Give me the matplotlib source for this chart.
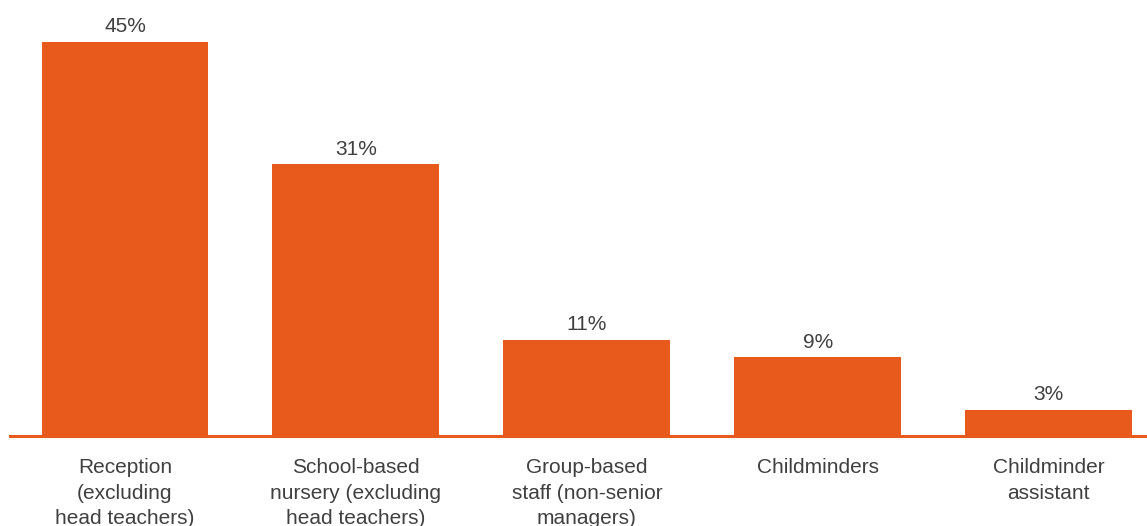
import matplotlib
matplotlib.use("Agg")
import matplotlib.pyplot as plt

categories = ["Reception\n(excluding\nhead teachers)",
              "School-based\nnursery (excluding\nhead teachers)",
              "Group-based\nstaff (non-senior\nmanagers)",
              "Childminders",
              "Childminder\nassistant"]
values = [45, 31, 11, 9, 3]
value_labels = ["45%", "31%", "11%", "9%", "3%"]

plt.rcParams['font.family'] = ['Liberation Sans', 'DejaVu Sans']
color = "#E8591C"
text_color = "#404040"

fig = plt.figure(figsize=(11.47, 5.26), dpi=100)
ax = fig.add_axes([10/1147, 90/526, 1 - 10/1147, 436/526])
x = list(range(len(values)))
ax.bar(x, values, width=0.723, color=color, zorder=2)
ax.set_xlim(-0.498, 4.426)
ax.set_ylim(0, 436/8.76)
for s in ["top", "right", "left"]:
    ax.spines[s].set_visible(False)
ax.spines["bottom"].set_color(color)
ax.spines["bottom"].set_linewidth(2.2)
ax.set_yticks([])
ax.set_xticks([])

for xi, v, lab in zip(x, values, value_labels):
    ax.annotate(lab, (xi, v), xytext=(0, 4), textcoords="offset points",
                ha="center", va="bottom", fontsize=15, color=text_color)

for xi, cat in zip(x, categories):
    ax.annotate(cat, (xi, 0), xycoords=("data", "axes fraction"),
                xytext=(0, -16), textcoords="offset points",
                ha="center", va="top", fontsize=15, color=text_color,
                linespacing=1.42, annotation_clip=False)

fig.savefig("out.png", dpi=100)
